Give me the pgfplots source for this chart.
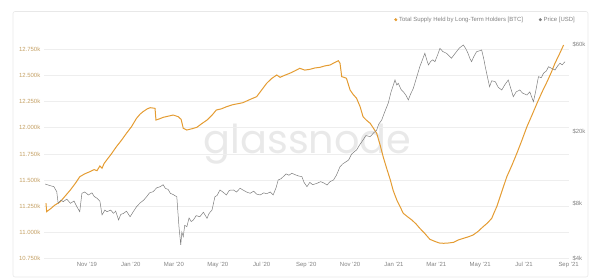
\documentclass[border=0pt]{standalone}
\usepackage{pgfplots}
\pgfplotsset{compat=1.18}
\usepackage{fontspec}
\setmainfont{Liberation Sans}
\newfontfamily\logofont{Poppins}
\definecolor{lth}{RGB}{228,156,50}
\definecolor{lthlab}{RGB}{196,160,100}
\definecolor{pricec}{RGB}{125,125,125}
\definecolor{labg}{RGB}{130,130,130}
\pgfplotstableread{
day v
-57 11279
-56 11199
-50 11230
-45 11260
-37 11294
-30 11350
-23 11406
-16 11470
-10 11532
-3 11560
4 11580
10 11600
14 11590
18 11635
21 11613
24 11660
27.5 11692
34 11750
41 11819
48 11880
55 11947
62 12010
69 12090
74 12130
78 12153
84 12180
88 12191
94.7 12185
96 12073
101 12085
106 12099
113 12110
120 12121
127 12105
131 12080
134 11994
139 11978
146 11990
153 12004
160 12040
167 12073
174 12120
180 12169
187 12180
194 12200
203 12220
213 12233
217 12239
227 12270
236 12296
243 12360
250 12424
257 12470
264 12503
268.6 12481
275 12500
282 12519
290 12545
296 12567
303 12550
310 12557
317 12570
324 12576
331 12590
338 12598
344 12620
349.7 12639
352 12615
354.4 12487
358 12480
361 12471
366 12360
370 12320
375 12281
380 12200
384 12105
389 12070
394 12042
398 12000
403 11947
408 11830
412 11723
417 11610
422 11501
426 11400
431 11310
436 11240
440 11183
446 11150
452 11119
458 11080
463 11040
470 10990
477 10935
484 10915
490 10900
496 10897
503 10900
510 10906
517 10930
524 10945
531 10960
537 10976
544 11010
551 11055
557 11090
563 11135
567 11200
570 11246
577 11390
584 11532
591 11640
598 11756
605 11880
612 12010
619 12120
626 12233
633 12340
640 12439
646 12530
651 12615
657 12700
663 12789
}\lthtable
\pgfplotstableread{
day p
-58 10290
-52 10100
-46 9950
-42 9340
-40 8060
-36 8400
-33 8230
-28 8500
-23 8060
-18 8300
-14 7720
-10 7250
-7 9150
-3 9300
2 8960
7 9200
10 8800
14 8590
18 8300
21 6960
25 7400
28 7250
33 7400
37 7100
40 7300
44 6530
47 7000
51 7100
55 7300
60 6800
64 7200
69 7720
74 8100
79 8400
83 8760
87 9200
92 9340
97 9800
102 9950
106 10200
109 9750
113 9600
116 9150
120 9000
125 8760
128 6000
130.5 4760
132 5600
134 5290
136 6100
139 6000
142 6700
145 6400
148 6530
152 6900
157 6800
162 7200
167 6670
170 7100
174 7410
178 8760
181 8900
185 9540
189 9300
194 8960
198 9500
204 9540
208 9300
213 9750
217 9540
222 9300
227 9150
232 9400
236 9050
241 8960
246 9200
250 9100
255 9300
259 8960
263 9800
266 10830
270 11000
273 11290
277 11700
281 11500
285 11790
289 11600
294 11400
299 11290
302 10500
306 9950
310 10500
314 10200
320 10380
325 10600
329 10450
334 10160
338 10600
343 10830
347 11500
352 12810
356 13300
360 13600
364 13940
368 15000
372 15500
375 15820
379 16800
384 17960
388 19000
394 18730
398 19500
403 20380
406 22000
410 23130
414 25500
419 28570
423 33000
428.5 38370
431 36000
433 36800
437 34000
440 33090
444 31500
447 29790
450 32000
454 34550
458 39000
463 45400
467 50000
470 53800
473 49000
475 46400
478 48500
481 49500
484 48370
488 53000
491 57280
495 55000
500 53800
504 52000
507 50490
511 53000
514 54900
518 57500
523.5 59760
527 57000
530 53800
533 50000
535 48370
538 51500
542 54900
546 55500
549 56080
552 50000
554 45400
557 40000
560 35240
563 38000
568 37550
572 35000
577 33800
581 36000
586 38370
590 34000
593 31060
597 33000
602 33800
606 32500
612 31740
616 33000
621 29150
624 33000
628 40000
632 39500
635 41770
639 43000
642 45400
646 44500
651 43550
655 46000
658 47390
661 46500
665 48370
}\pricetable
\begin{document}
\begin{tikzpicture}
\useasboundingbox (-43.8bp,-19.3bp) rectangle (556.2bp,258.7bp);
\draw[gray!18, line width=0.6bp, rounded corners=2bp] (-30.8bp,-18.3bp) rectangle (544.2bp,247.2bp);
\node[anchor=base, text=gray!17, font=\logofont\fontsize{40}{40}\selectfont] at (263.7bp,104.7bp) {glassnode};
\begin{axis}[
  at={(0,0)}, anchor=south west, scale only axis,
  width=525.2bp, height=218.7bp,
  xmin=-60, xmax=670.5, ymin=10750, ymax=12837,
  scaled y ticks=false,
  axis line style={draw=none}, major tick length=0pt,
  xtick={0,61,121,182,243,305,366,427,486,547,608,670},
  xticklabels={Nov '19,Jan '20,Mar '20,May '20,Jul '20,Sep '20,Nov '20,Jan '21,Mar '21,May '21,Jul '21,Sep '21},
  ytick={10750,11000,11250,11500,11750,12000,12250,12500,12750},
  yticklabels={10.750k,11.000k,11.250k,11.500k,11.750k,12.000k,12.250k,12.500k,12.750k},
  ymajorgrids, grid style={gray!13, line width=0.5bp},
  tick label style={font=\fontsize{6}{7}\selectfont},
  yticklabel style={text=lthlab},
  xticklabel style={text=labg},
  legend style={at={(axis description cs:1,1)}, anchor=east, xshift=8bp, yshift=20.3bp,
    draw=none, fill=none, inner sep=0pt, font=\fontsize{6}{7}\selectfont\color{labg},
    /tikz/every even column/.append style={column sep=14bp}},
  legend columns=2,
  legend cell align=left,
]
\addlegendimage{only marks, mark=*, mark size=1.3bp, lth}
\addlegendentry{Total Supply Held by Long-Term Holders [BTC]}
\addlegendimage{only marks, mark=*, mark size=1.3bp, pricec}
\addlegendentry{Price [USD]}
\addplot[forget plot, lth, line width=1bp] table[x=day, y=v] {\lthtable};
\end{axis}
\begin{axis}[
  at={(0,0)}, anchor=south west, scale only axis,
  width=525.2bp, height=218.7bp,
  xmin=-60, xmax=670.5, ymode=log, ymin=4000, ymax=63640,
  axis y line*=right, hide x axis,
  axis line style={draw=none}, major tick length=0pt,
  ytick={4000,8000,20000,60000},
  yticklabels={\$4k,\$8k,\$20k,\$60k},
  tick label style={font=\fontsize{6}{7}\selectfont},
  yticklabel style={text=labg},
]
\addplot[pricec, line width=0.5bp] table[x=day, y=p] {\pricetable};
\end{axis}
\end{tikzpicture}
\end{document}
